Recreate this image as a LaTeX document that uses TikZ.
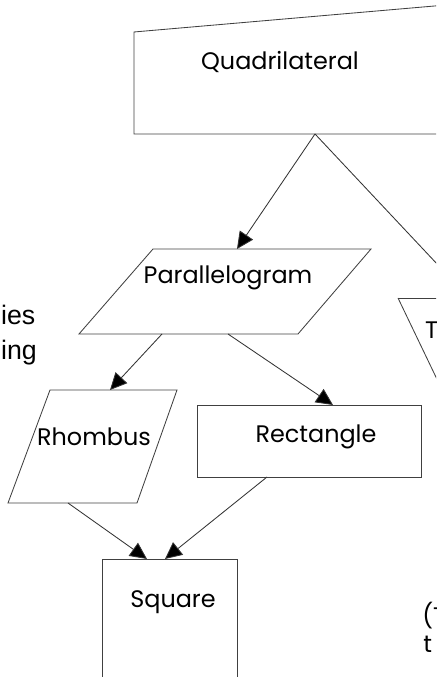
\documentclass[tikz,border=0pt]{standalone}
\usepackage{fontspec}
\setmainfont{Poppins}
\newfontfamily\sidefont{Liberation Sans}
\usetikzlibrary{arrows.meta}

\begin{document}
\begin{tikzpicture}[
    shapeline/.style={draw=black!75, line width=0.6pt},
    link/.style={draw=black!80, line width=0.6pt, -{Triangle[length=4.2mm,width=4mm,fill=black]}},
    lbl/.style={font=\fontsize{17}{20}\selectfont, inner sep=0pt},
    side/.style={font=\sidefont\fontsize{19}{22}\selectfont, inner sep=0pt, anchor=base west}
  ]
    \useasboundingbox (0,0) rectangle (10.9,16.925);
    \clip (0,0) rectangle (10.9,16.925);
  
    \draw[shapeline] (3.35,16.125) -- (11.5,16.83) -- (11.5,13.575) -- (3.35,13.575) -- cycle;
    \draw[shapeline] (3.825,10.7) -- (9.275,10.7) -- (7.45,8.575) -- (1.975,8.575) -- cycle;
    \draw[shapeline] (9.95,9.475) -- (11.5,9.475);
    \draw[shapeline] (9.95,9.475) -- (11.2,6.87);
    \draw[shapeline] (1.25,7.175) -- (4.425,7.175) -- (3.425,4.35) -- (0.2,4.35) -- cycle;
    \draw[shapeline] (4.925,6.8) rectangle (10.525,5.0);
    \draw[shapeline] (2.55,-1) -- (2.55,2.95) -- (5.925,2.95) -- (5.925,-1);
  
    \node[lbl] (quad) at (7.0,15.375) {Quadrilateral};
    \node[lbl] (para) at (5.7,9.975) {Parallelogram};
    \node[lbl, anchor=west] (trap) at (10.62,8.675) {T};
    \node[lbl] (rhomb) at (2.35,6.0) {Rhombus};
    \node[lbl] (rect) at (7.9,6.0) {Rectangle};
    \node[lbl] (sq) at (4.325,1.875) {Square};
  
    \coordinate (quad-s) at (7.875,13.575);
    \coordinate (trap-n) at (11.725,9.475);
    \coordinate (para-n) at (5.925,10.7);
    \coordinate (para-sw) at (4.05,8.575);
    \coordinate (para-se) at (5.7,8.575);
    \coordinate (rhomb-n) at (2.75,7.175);
    \coordinate (rhomb-s) at (1.7,4.35);
    \coordinate (rect-n) at (8.325,6.8);
    \coordinate (rect-s) at (6.675,5.0);
    \coordinate (sq-nw) at (3.675,2.95);
    \coordinate (sq-ne) at (4.125,2.95);
  
    \draw[link] (quad-s) -- (para-n);
    \draw[link] (quad-s) -- (trap-n);
    \draw[link] (para-sw) -- (rhomb-n);
    \draw[link] (para-se) -- (rect-n);
    \draw[link] (rhomb-s) -- (sq-nw);
    \draw[link] (rect-s) -- (sq-ne);
  
    \node[side] (ies) at (0.02,8.8) {ies};
    \node[side] (ing) at (0.02,7.925) {ing};
    \node[lbl, anchor=base west] (paren) at (10.55,1.3) {(T};
    \node[lbl, anchor=base west] (tline) at (10.58,0.62) {t};
  \end{tikzpicture}
\end{document}
